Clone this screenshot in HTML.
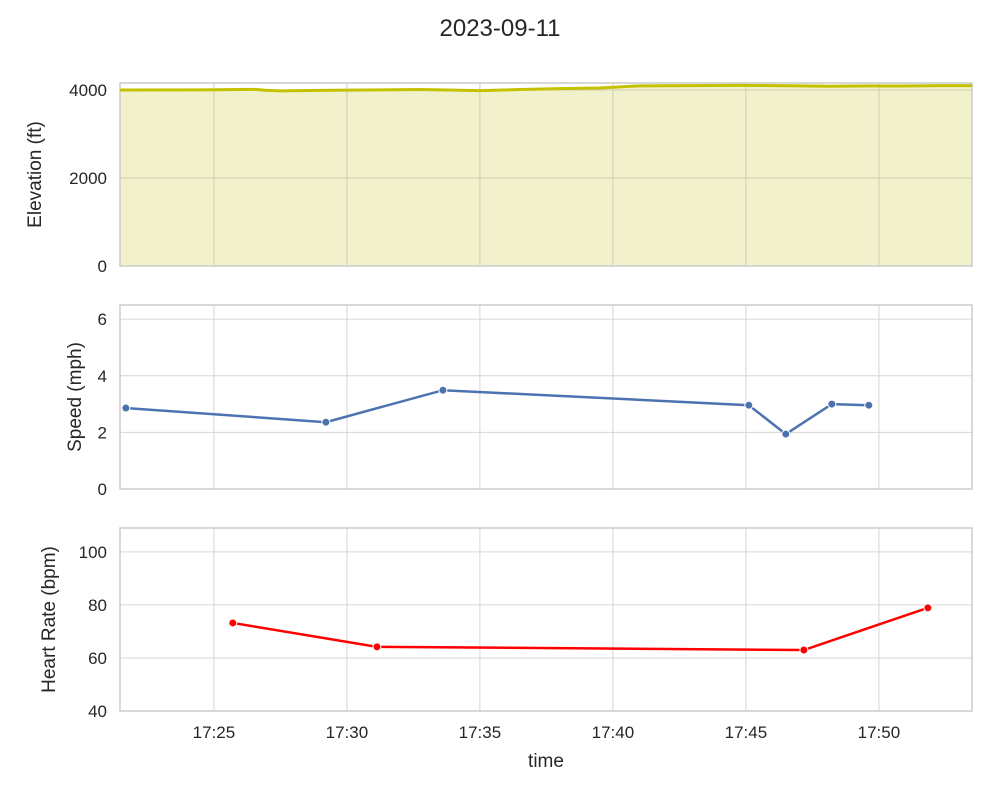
<!DOCTYPE html>
<html><head><meta charset="utf-8"><style>
body{margin:0;background:#fff;font-family:"Liberation Sans",sans-serif;}
svg text{font-family:"Liberation Sans",sans-serif;fill:#262626;}
</style></head><body>
<svg id="c" width="1000" height="800"></svg>
<script>
const elevTimes=[21.47,24.47,26.54,26.92,27.48,28.98,32.74,35.0,36.5,38.0,39.5,40.26,41.0,44.77,47.03,48.16,49.66,50.79,52.29,53.5];
const elevValues=[4000,4002,4015,3995,3980,3990,4010,3985,4010,4030,4045,4070,4095,4105,4095,4085,4095,4090,4100,4100];
const speedTimes=[21.69,29.21,33.61,45.11,46.5,48.23,49.62];
const speedValues=[2.86,2.36,3.49,2.96,1.94,3.0,2.96];
const hrTimes=[25.71,31.13,47.18,51.84];
const hrValues=[73.2,64.2,63.0,78.9];
const xTickMinutes=[25,30,35,40,45,50];
const xTickLabels=["17:25","17:30","17:35","17:40","17:45","17:50"];
const elevTicks=[0,2000,4000],speedTicks=[0,2,4,6],hrTicks=[40,60,80,100];
const NS="http://www.w3.org/2000/svg",svg=document.getElementById('c');
function mk(t,a,p){const e=document.createElementNS(NS,t);for(const k in a)e.setAttribute(k,a[k]);(p||svg).appendChild(e);return e;}
const X0=120,X1=972,T0=21.47,T1=53.5;
const xs=t=>X0+(t-T0)/(T1-T0)*(X1-X0);
const panels=[
 {top:83,bot:266,min:0,max:4159,ticks:elevTicks,label:"Elevation (ft)",name:"elevation"},
 {top:305,bot:489,min:0,max:6.5,ticks:speedTicks,label:"Speed (mph)",name:"speed"},
 {top:528,bot:711,min:40,max:109,ticks:hrTicks,label:"Heart Rate (bpm)",name:"heart-rate"}];
let t=mk('text',{x:500,y:36,'font-size':24,'text-anchor':'middle'});t.textContent="2023-09-11";


panels.forEach((p,i)=>{
 const ys=v=>p.bot-(v-p.min)/(p.max-p.min)*(p.bot-p.top);p.ys=ys;
 const g=mk('g',{});
 
 
 if(i==0){
  let d=`M${xs(elevTimes[0])},${ys(0)}`;elevTimes.forEach((tt,j)=>d+=`L${xs(tt)},${ys(elevValues[j])}`);d+=`L${xs(elevTimes[elevTimes.length-1])},${ys(0)}Z`;
  const a=mk('path',{d,fill:'#f1f1cb'},g);
  
  
 }
 xTickMinutes.forEach(m=>{mk('line',{x1:xs(m),x2:xs(m),y1:p.top,y2:p.bot,stroke:i==0?'#cfcfae':'#d6d6d6','stroke-width':1},g);});
 p.ticks.forEach(v=>{mk('line',{x1:X0,x2:X1,y1:ys(v),y2:ys(v),stroke:i==0?'#cfcfae':'#d6d6d6','stroke-width':1},g);
  const tx=mk('text',{x:X0-13,y:ys(v)+6,'font-size':17,'text-anchor':'end'},g);tx.textContent=v;
  
  });
 mk('rect',{x:X0,y:p.top,width:X1-X0,height:p.bot-p.top,fill:'none',stroke:'#cccccc','stroke-width':1.5},g);
 const yl=mk('text',{x:0,y:0,'font-size':19,'text-anchor':'middle',transform:`translate(${i==0?41:i==1?81:55},${(p.top+p.bot)/2}) rotate(-90)`},g);yl.textContent=p.label;
 
 
});
{const p=panels[0];const pts=elevTimes.map((tt,j)=>xs(tt)+','+p.ys(elevValues[j])).join(' ');
 const l=mk('polyline',{points:pts,fill:'none',stroke:'#c4c200','stroke-width':3});
 
 }
function series(p,ts,vs,col,nm){
 const l=mk('polyline',{points:ts.map((tt,j)=>xs(tt)+','+p.ys(vs[j])).join(' '),fill:'none',stroke:col,'stroke-width':2.5});
 
 
 ts.forEach((tt,j)=>{const c=mk('circle',{cx:xs(tt),cy:p.ys(vs[j]),r:4,fill:col,stroke:'#fff','stroke-width':1});
  
  });
}
series(panels[1],speedTimes,speedValues,'#4c72b0','speed');
series(panels[2],hrTimes,hrValues,'#ff0000','heart-rate');
xTickMinutes.forEach((m,j)=>{const tx=mk('text',{x:xs(m),y:738,'font-size':17,'text-anchor':'middle'});tx.textContent=xTickLabels[j];
 
 });
t=mk('text',{x:546,y:767,'font-size':19,'text-anchor':'middle'});t.textContent="time";


</script></body></html>
